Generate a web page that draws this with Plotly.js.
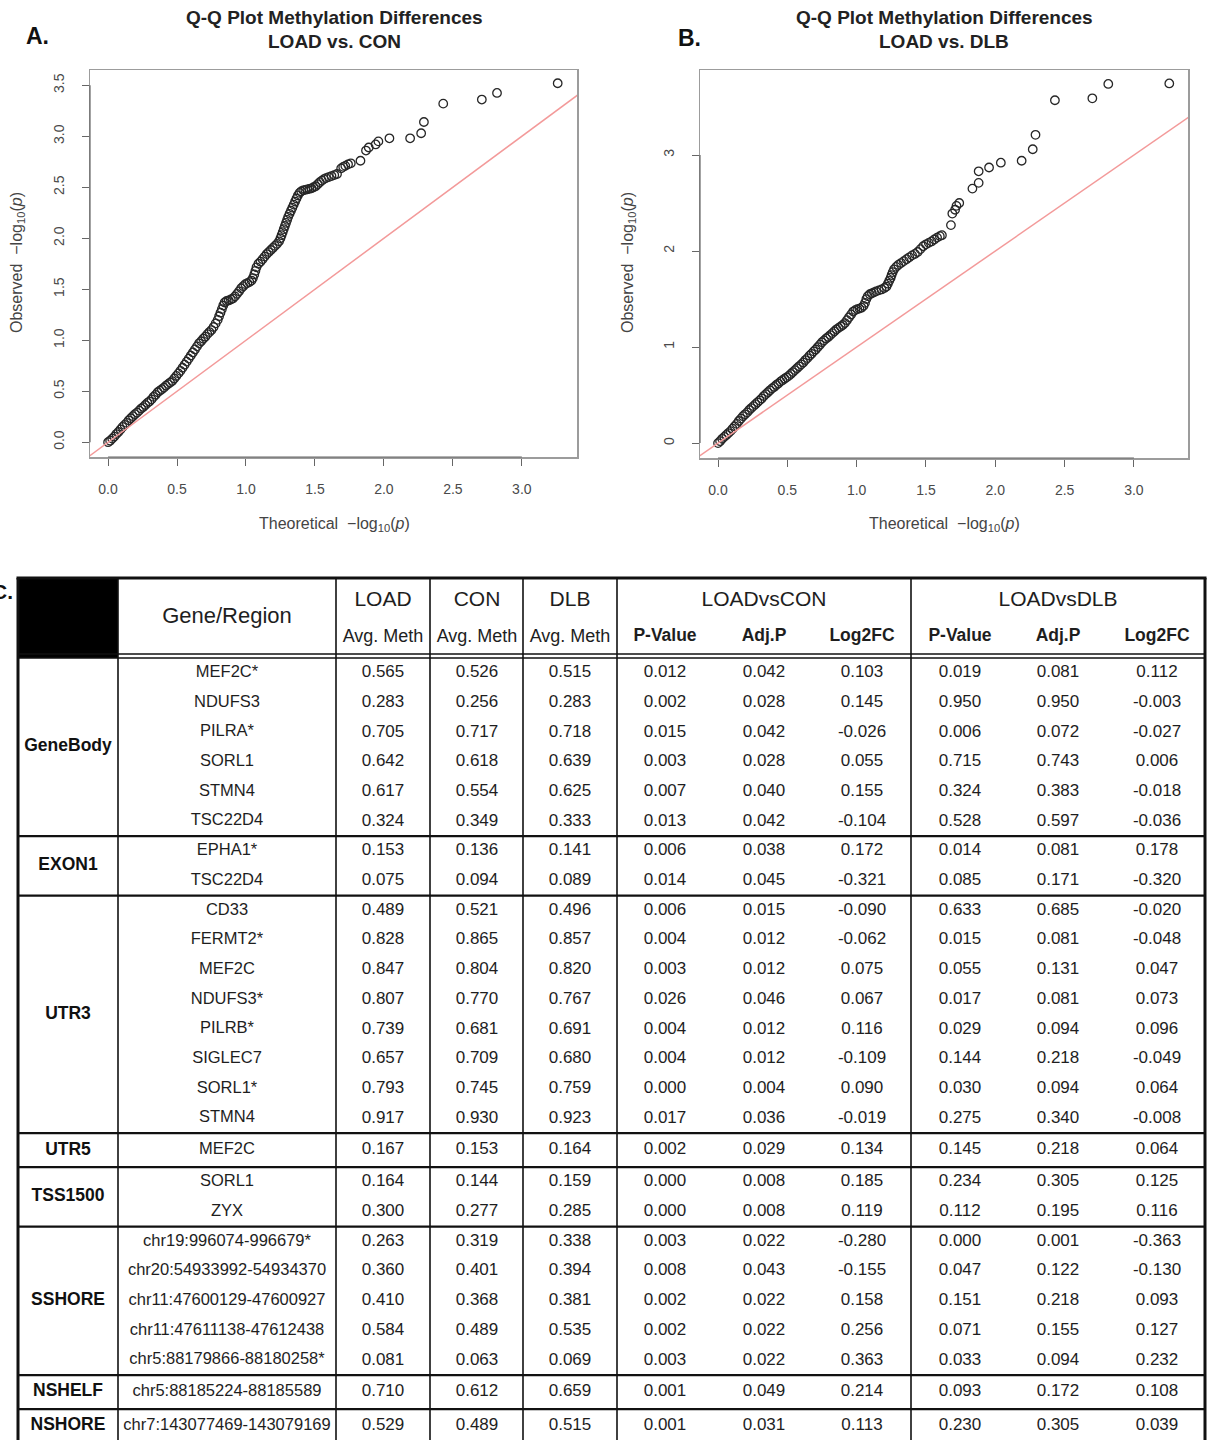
<!DOCTYPE html>
<html>
<head>
<meta charset="utf-8">
<script src="https://cdn.plot.ly/plotly-3.0.1.min.js"></script>
<style>
html,body{margin:0;padding:0;background:#ffffff;}
#chart{width:1209px;height:1440px;}
</style>
</head>
<body>
<div id="chart"></div>
<script>
// ---------------- Q-Q plot data ----------------
const qqA_theoretical = [0.000,0.015,0.030,0.045,0.060,0.075,0.090,0.105,0.120,0.135,0.150,0.165,0.180,0.195,0.210,0.225,0.240,0.255,0.270,0.285,0.300,0.315,0.330,0.345,0.360,0.375,0.390,0.405,0.420,0.435,0.450,0.465,0.480,0.495,0.510,0.525,0.540,0.555,0.570,0.585,0.600,0.615,0.630,0.645,0.660,0.675,0.690,0.705,0.720,0.735,0.750,0.765,0.780,0.795,0.805,0.815,0.825,0.835,0.845,0.860,0.875,0.890,0.905,0.920,0.935,0.950,0.965,0.980,0.995,1.010,1.025,1.040,1.050,1.060,1.068,1.076,1.090,1.105,1.120,1.135,1.150,1.165,1.180,1.195,1.210,1.225,1.240,1.250,1.258,1.266,1.274,1.282,1.290,1.298,1.306,1.316,1.326,1.336,1.346,1.356,1.366,1.376,1.388,1.400,1.415,1.430,1.445,1.460,1.475,1.490,1.505,1.520,1.535,1.550,1.565,1.580,1.600,1.620,1.640,1.660,1.690,1.705,1.720,1.740,1.760,1.83,1.87,1.89,1.94,1.96,2.04,2.19,2.27,2.29,2.43,2.71,2.82,3.26];
const qqA_observed    = [0.000,0.015,0.035,0.055,0.080,0.100,0.125,0.150,0.170,0.190,0.215,0.235,0.255,0.275,0.290,0.310,0.330,0.345,0.365,0.385,0.400,0.420,0.445,0.465,0.490,0.505,0.520,0.535,0.555,0.570,0.585,0.600,0.625,0.650,0.675,0.700,0.730,0.760,0.790,0.820,0.850,0.880,0.910,0.940,0.970,0.990,1.015,1.035,1.060,1.080,1.100,1.130,1.165,1.200,1.235,1.270,1.305,1.340,1.370,1.385,1.390,1.400,1.410,1.430,1.455,1.480,1.510,1.530,1.550,1.560,1.570,1.585,1.610,1.645,1.680,1.715,1.750,1.770,1.795,1.820,1.845,1.865,1.885,1.905,1.925,1.945,1.970,2.000,2.030,2.060,2.090,2.120,2.150,2.180,2.210,2.240,2.270,2.300,2.330,2.360,2.390,2.420,2.445,2.460,2.470,2.475,2.480,2.485,2.490,2.500,2.510,2.530,2.550,2.565,2.580,2.590,2.600,2.610,2.620,2.630,2.685,2.700,2.710,2.725,2.735,2.76,2.86,2.89,2.92,2.95,2.98,2.98,3.03,3.14,3.32,3.36,3.425,3.52];

const qqB_theoretical = [0.000,0.015,0.030,0.045,0.060,0.075,0.090,0.105,0.120,0.135,0.150,0.165,0.180,0.195,0.210,0.225,0.240,0.255,0.270,0.285,0.300,0.315,0.330,0.345,0.360,0.375,0.390,0.405,0.420,0.435,0.450,0.465,0.480,0.495,0.510,0.525,0.540,0.555,0.570,0.585,0.600,0.615,0.630,0.645,0.660,0.675,0.690,0.705,0.720,0.735,0.750,0.765,0.780,0.795,0.810,0.825,0.840,0.855,0.870,0.885,0.900,0.915,0.930,0.945,0.960,0.975,0.990,1.005,1.020,1.035,1.050,1.060,1.070,1.080,1.095,1.110,1.125,1.140,1.160,1.180,1.200,1.215,1.225,1.235,1.245,1.252,1.260,1.270,1.285,1.300,1.320,1.340,1.360,1.380,1.400,1.420,1.440,1.460,1.480,1.500,1.520,1.540,1.560,1.580,1.600,1.615,1.68,1.69,1.71,1.72,1.74,1.835,1.88,1.88,1.955,2.04,2.19,2.27,2.29,2.43,2.70,2.815,3.255];
const qqB_observed    = [0.000,0.020,0.045,0.065,0.085,0.105,0.125,0.150,0.175,0.200,0.230,0.255,0.280,0.300,0.320,0.345,0.365,0.385,0.405,0.425,0.445,0.465,0.490,0.510,0.530,0.550,0.570,0.585,0.605,0.620,0.640,0.655,0.670,0.685,0.700,0.720,0.740,0.760,0.780,0.800,0.820,0.840,0.865,0.885,0.910,0.930,0.955,0.975,1.000,1.025,1.050,1.070,1.090,1.105,1.125,1.145,1.165,1.185,1.200,1.215,1.230,1.250,1.280,1.310,1.340,1.370,1.385,1.395,1.400,1.410,1.430,1.460,1.500,1.530,1.550,1.560,1.570,1.580,1.590,1.600,1.615,1.630,1.660,1.690,1.720,1.750,1.780,1.810,1.835,1.855,1.875,1.895,1.915,1.935,1.955,1.970,1.990,2.020,2.050,2.070,2.085,2.100,2.120,2.140,2.155,2.165,2.27,2.39,2.43,2.47,2.50,2.65,2.71,2.83,2.87,2.92,2.94,3.06,3.21,3.57,3.59,3.74,3.745];

const refLine = [-1, 5];            // the y = x reference line
const xTicks  = [0, 0.5, 1, 1.5, 2, 2.5, 3];
const yTicksA = [0, 0.5, 1, 1.5, 2, 2.5, 3, 3.5];
const yTicksB = [0, 1, 2, 3];

// ---------------- Table data ----------------
const regionGroups = ['GeneBody','EXON1','UTR3','UTR5','TSS1500','SSHORE','NSHELF','NSHORE'];
const regionCounts = [6, 2, 8, 1, 2, 5, 1, 1];
const genes = ['MEF2C*','NDUFS3','PILRA*','SORL1','STMN4','TSC22D4',
  'EPHA1*','TSC22D4',
  'CD33','FERMT2*','MEF2C','NDUFS3*','PILRB*','SIGLEC7','SORL1*','STMN4',
  'MEF2C',
  'SORL1','ZYX',
  'chr19:996074-996679*','chr20:54933992-54934370','chr11:47600129-47600927','chr11:47611138-47612438','chr5:88179866-88180258*',
  'chr5:88185224-88185589',
  'chr7:143077469-143079169'];
const loadMeth = [0.565,0.283,0.705,0.642,0.617,0.324, 0.153,0.075, 0.489,0.828,0.847,0.807,0.739,0.657,0.793,0.917, 0.167, 0.164,0.300, 0.263,0.360,0.410,0.584,0.081, 0.710, 0.529];
const conMeth  = [0.526,0.256,0.717,0.618,0.554,0.349, 0.136,0.094, 0.521,0.865,0.804,0.770,0.681,0.709,0.745,0.930, 0.153, 0.144,0.277, 0.319,0.401,0.368,0.489,0.063, 0.612, 0.489];
const dlbMeth  = [0.515,0.283,0.718,0.639,0.625,0.333, 0.141,0.089, 0.496,0.857,0.820,0.767,0.691,0.680,0.759,0.923, 0.164, 0.159,0.285, 0.338,0.394,0.381,0.535,0.069, 0.659, 0.515];
const conP     = [0.012,0.002,0.015,0.003,0.007,0.013, 0.006,0.014, 0.006,0.004,0.003,0.026,0.004,0.004,0.000,0.017, 0.002, 0.000,0.000, 0.003,0.008,0.002,0.002,0.003, 0.001, 0.001];
const conAdjP  = [0.042,0.028,0.042,0.028,0.040,0.042, 0.038,0.045, 0.015,0.012,0.012,0.046,0.012,0.012,0.004,0.036, 0.029, 0.008,0.008, 0.022,0.043,0.022,0.022,0.022, 0.049, 0.031];
const conLog2FC= [0.103,0.145,-0.026,0.055,0.155,-0.104, 0.172,-0.321, -0.090,-0.062,0.075,0.067,0.116,-0.109,0.090,-0.019, 0.134, 0.185,0.119, -0.280,-0.155,0.158,0.256,0.363, 0.214, 0.113];
const dlbP     = [0.019,0.950,0.006,0.715,0.324,0.528, 0.014,0.085, 0.633,0.015,0.055,0.017,0.029,0.144,0.030,0.275, 0.145, 0.234,0.112, 0.000,0.047,0.151,0.071,0.033, 0.093, 0.230];
const dlbAdjP  = [0.081,0.950,0.072,0.743,0.383,0.597, 0.081,0.171, 0.685,0.081,0.131,0.081,0.094,0.218,0.094,0.340, 0.218, 0.305,0.195, 0.001,0.122,0.218,0.155,0.094, 0.172, 0.305];
const dlbLog2FC= [0.112,-0.003,-0.027,0.006,-0.018,-0.036, 0.178,-0.320, -0.020,-0.048,0.047,0.073,0.096,-0.049,0.064,-0.008, 0.064, 0.125,0.116, -0.363,-0.130,0.093,0.127,0.232, 0.108, 0.039];
const groupHeaders = ['LOAD','CON','DLB'];
const subHeaderMeth = 'Avg. Meth';
const compHeaders = ['LOADvsCON','LOADvsDLB'];
const statHeaders = ['P-Value','Adj.P','Log2FC'];

// ---------------- Layout helpers ----------------
const W = 1209, H = 1440;
const px = v => v / W;
const py = v => 1 - v / H;
const plotFont = 'Liberation Sans, Arial, Helvetica, sans-serif';
const tabFont = 'Liberation Sans, Arial, sans-serif';
const pointColor = '#262626';
const lineRed = '#f39a9a';

function qqAxis(extra) {
  return Object.assign({
    showline: true, mirror: true, linecolor: '#9c9c9c', linewidth: 1.5,
    ticks: 'outside', ticklen: 7, tickwidth: 1, tickcolor: '#666',
    showgrid: false, zeroline: false, fixedrange: true,
    tickfont: {family: plotFont, size: 14, color: '#4a4a4a'},
    tickmode: 'array'
  }, extra);
}

// ---------------- Traces ----------------
const traces = [];
const markerStyle = {symbol: 'circle-open', size: 8.5, color: pointColor, line: {width: 1.3, color: pointColor}};
traces.push({x: qqA_theoretical, y: qqA_observed, xaxis: 'x', yaxis: 'y', type: 'scatter', mode: 'markers',
  marker: markerStyle, hoverinfo: 'skip'});
traces.push({x: refLine, y: refLine, xaxis: 'x', yaxis: 'y', type: 'scatter', mode: 'lines',
  line: {color: lineRed, width: 1.5}, hoverinfo: 'skip'});
traces.push({x: qqB_theoretical, y: qqB_observed, xaxis: 'x2', yaxis: 'y2', type: 'scatter', mode: 'markers',
  marker: markerStyle, hoverinfo: 'skip'});
traces.push({x: refLine, y: refLine, xaxis: 'x2', yaxis: 'y2', type: 'scatter', mode: 'lines',
  line: {color: lineRed, width: 1.5}, hoverinfo: 'skip'});

// ---- table geometry ----
const tabLeft = 18, tabRight = 1205, tabTop = 578, bodyTop = 658;
const colBounds = [118, 336, 430, 523, 617, 911];
const groupX = 68, geneX = 227;
const numX = [383, 477, 570, 665, 764, 862, 960, 1058, 1157];
const rowH = 29.7, singleH = 34;
const rowY = [], groupY = [], sepY = [];
let yCur = bodyTop;
regionCounts.forEach(n => {
  const h = n === 1 ? singleH : n * rowH;
  const rh = h / n;
  for (let k = 0; k < n; k++) rowY.push(yCur + (k + 0.5) * rh);
  groupY.push(yCur + h / 2);
  yCur += h;
  sepY.push(yCur);
});

const numCols = [loadMeth, conMeth, dlbMeth, conP, conAdjP, conLog2FC, dlbP, dlbAdjP, dlbLog2FC];
const cellX = [], cellY = [], cellT = [];
numCols.forEach((col, c) => col.forEach((v, i) => {
  cellX.push(numX[c]); cellY.push(rowY[i]); cellT.push(v.toFixed(3));
}));
traces.push({x: cellX, y: cellY, text: cellT, xaxis: 'x3', yaxis: 'y3', type: 'scatter', mode: 'text',
  textposition: 'middle center', textfont: {family: tabFont, size: 17, color: '#1e1e1e'}, hoverinfo: 'skip'});
traces.push({x: genes.map(() => geneX), y: rowY.slice(0, genes.length), text: genes, xaxis: 'x3', yaxis: 'y3',
  type: 'scatter', mode: 'text', textposition: 'middle center',
  textfont: {family: tabFont, size: 16.5, color: '#1e1e1e'}, hoverinfo: 'skip'});

traces.push({x: regionGroups.map(() => groupX), y: groupY, text: regionGroups.map(g => '<b>' + g + '</b>'),
  xaxis: 'x3', yaxis: 'y3', type: 'scatter', mode: 'text', textposition: 'middle center',
  textfont: {family: tabFont, size: 17.5, color: '#111'}, hoverinfo: 'skip'});

// headers
traces.push({x: [geneX], y: [617], text: ['Gene/Region'], xaxis: 'x3', yaxis: 'y3', type: 'scatter', mode: 'text',
  textposition: 'middle center', textfont: {family: tabFont, size: 22, color: '#1e1e1e'}, hoverinfo: 'skip'});
const hX = [numX[0], numX[1], numX[2], numX[4], numX[7]];
const hT = groupHeaders.concat(compHeaders);
traces.push({x: hX, y: hX.map(() => 601), text: hT, xaxis: 'x3', yaxis: 'y3', type: 'scatter', mode: 'text',
  textposition: 'middle center', textfont: {family: tabFont, size: 21, color: '#1e1e1e'}, hoverinfo: 'skip'});
traces.push({x: [numX[0], numX[1], numX[2]], y: [637, 637, 637], text: groupHeaders.map(() => subHeaderMeth),
  xaxis: 'x3', yaxis: 'y3', type: 'scatter', mode: 'text', textposition: 'middle center',
  textfont: {family: tabFont, size: 18, color: '#1e1e1e'}, hoverinfo: 'skip'});
traces.push({x: numX.slice(3), y: numX.slice(3).map(() => 637), text: statHeaders.concat(statHeaders).map(s => '<b>' + s + '</b>'),
  xaxis: 'x3', yaxis: 'y3', type: 'scatter', mode: 'text', textposition: 'middle center',
  textfont: {family: tabFont, size: 17.5, color: '#1e1e1e'}, hoverinfo: 'skip'});

// ---------------- Shapes ----------------
const shapes = [];
const tl = (x0, y0, x1, y1, w, c) => shapes.push({type: 'line', xref: 'x3', yref: 'y3', x0, y0, x1, y1,
  line: {color: c || '#111', width: w}});
shapes.push({type: 'rect', xref: 'x3', yref: 'y3', x0: tabLeft, x1: colBounds[0], y0: tabTop, y1: bodyTop,
  fillcolor: '#000', line: {width: 0}});
tl(tabLeft - 1.5, tabTop, tabRight + 1.5, tabTop, 3);
tl(tabLeft, tabTop, tabLeft, H + 10, 3);
tl(tabRight, tabTop, tabRight, H + 10, 3);
colBounds.forEach(x => tl(x, tabTop, x, H + 10, 1.6));
tl(tabLeft, bodyTop - 4, tabRight, bodyTop - 4, 1.6);
tl(tabLeft, bodyTop, tabRight, bodyTop, 1.6);
sepY.slice(0, -1).forEach(y => tl(tabLeft, y, tabRight, y, 2.2));

// R-style axis segments (first to last tick)
shapes.push({type: 'line', xref: 'x', yref: 'y domain', x0: xTicks[0], x1: xTicks[xTicks.length - 1], y0: 0, y1: 0, line: {color: '#666', width: 1.2}});
shapes.push({type: 'line', xref: 'x domain', yref: 'y', x0: 0, x1: 0, y0: yTicksA[0], y1: yTicksA[yTicksA.length - 1], line: {color: '#666', width: 1.2}});
shapes.push({type: 'line', xref: 'x2', yref: 'y2 domain', x0: xTicks[0], x1: xTicks[xTicks.length - 1], y0: 0, y1: 0, line: {color: '#666', width: 1.2}});
shapes.push({type: 'line', xref: 'x2 domain', yref: 'y2', x0: 0, x1: 0, y0: yTicksB[0], y1: yTicksB[yTicksB.length - 1], line: {color: '#666', width: 1.2}});

// ---------------- Annotations ----------------
const ann = [];
const a = (text, x, y, size, opts) => ann.push(Object.assign({text, x: px(x), y: py(y), xref: 'paper', yref: 'paper',
  showarrow: false, xanchor: 'center', yanchor: 'middle',
  font: {family: plotFont, size, color: '#222'}}, opts || {}));
a('<b>Q-Q Plot Methylation Differences</b>', 334, 18, 19);
a('<b>LOAD vs. CON</b>', 334, 41, 19);
a('<b>Q-Q Plot Methylation Differences</b>', 944, 18, 19);
a('<b>LOAD vs. DLB</b>', 944, 41, 19);
a('<b>A.</b>', 37, 36, 23, {font: {family: plotFont, size: 23, color: '#111'}});
a('<b>B.</b>', 690, 38, 23, {font: {family: plotFont, size: 23, color: '#111'}});
a('<b>C.</b>', 15, 591, 21, {xanchor: 'right', font: {family: plotFont, size: 21, color: '#111'}});
const xt = 'Theoretical  \u2212log<sub>10</sub>(<i>p</i>)';
const yt = 'Observed  \u2212log<sub>10</sub>(<i>p</i>)';
a(xt, 334, 524, 16, {font: {family: plotFont, size: 16, color: '#444'}});
a(xt, 944, 524, 16, {font: {family: plotFont, size: 16, color: '#444'}});
a(yt, 17, 263, 16, {textangle: -90, font: {family: plotFont, size: 16, color: '#444'}});
a(yt, 628, 263, 16, {textangle: -90, font: {family: plotFont, size: 16, color: '#444'}});

// ---------------- Layout ----------------
const layout = {
  width: W, height: H,
  margin: {l: 0, r: 0, t: 0, b: 0, pad: 0},
  paper_bgcolor: '#fff', plot_bgcolor: 'rgba(0,0,0,0)',
  showlegend: false, hovermode: false,
  xaxis: qqAxis({domain: [px(90), px(577)], range: [-0.131, 3.40], anchor: 'y',
    tickvals: xTicks, ticktext: xTicks.map(v => v.toFixed(1)), ticklabelstandoff: 12}),
  yaxis: qqAxis({domain: [py(457), py(70)], range: [-0.145, 3.65], anchor: 'x',
    tickvals: yTicksA, ticktext: yTicksA.map(v => v.toFixed(1)), tickangle: -90, ticklabelstandoff: 12}),
  xaxis2: qqAxis({domain: [px(700), px(1188)], range: [-0.13, 3.39], anchor: 'y2',
    tickvals: xTicks, ticktext: xTicks.map(v => v.toFixed(1)), ticklabelstandoff: 12}),
  yaxis2: qqAxis({domain: [py(458), py(70)], range: [-0.155, 3.885], anchor: 'x2',
    tickvals: yTicksB, ticktext: yTicksB.map(v => String(v)), tickangle: -90, ticklabelstandoff: 12}),
  xaxis3: {domain: [0, 1], range: [0, W], anchor: 'y3', visible: false, fixedrange: true},
  yaxis3: {domain: [0, py(560)], range: [H, 560], anchor: 'x3', visible: false, fixedrange: true},
  shapes: shapes,
  annotations: ann
};

Plotly.newPlot('chart', traces, layout, {staticPlot: true, displayModeBar: false});
</script>
</body>
</html>
